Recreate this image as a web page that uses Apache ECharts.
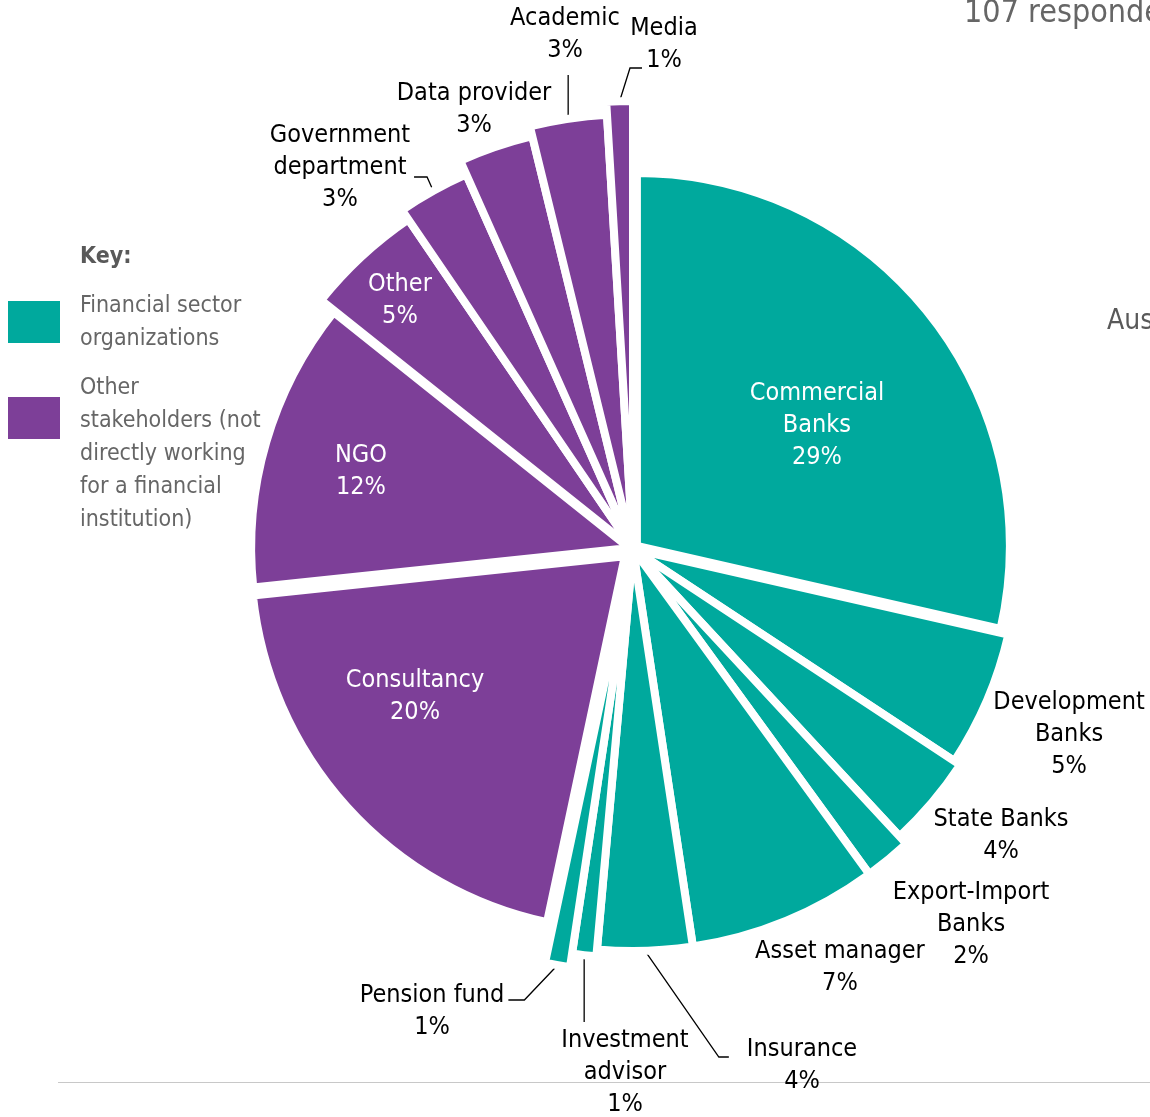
<!DOCTYPE html>
<html>
<head>
<meta charset="utf-8">
<script src="https://cdn.jsdelivr.net/npm/echarts@6/dist/echarts.min.js"></script>
<style>
html,body{margin:0;padding:0;background:#ffffff;}
#chart{width:1150px;height:1117px;}
</style>
</head>
<body>
<div id="chart"></div>
<script>
// ---------------- data ----------------
const categories = [
  'Commercial\nBanks', 'Development\nBanks', 'State Banks', 'Export-Import\nBanks',
  'Asset manager', 'Insurance', 'Investment\nadvisor', 'Pension fund',
  'Consultancy', 'NGO', 'Other', 'Government\ndepartment', 'Data provider', 'Academic', 'Media'
];
// slice sizes (respondents)
const counts = [30, 6, 4, 2, 8, 4, 1, 1, 21, 13, 5, 3, 3, 3, 1];
// percentages printed on the chart
const percentLabels = [29, 5, 4, 2, 7, 4, 1, 1, 20, 12, 5, 3, 3, 3, 1];
const groups = ['fin','fin','fin','fin','fin','fin','fin','fin','oth','oth','oth','oth','oth','oth','oth'];
const legendLabels = ['Financial sector\norganizations', 'Other\nstakeholders (not\ndirectly working\nfor a financial\ninstitution)'];
const keyTitle = 'Key:';
const headerText = '107 respondents';
const sideText = 'Aus';

// ---------------- styles / layout ----------------
const FONT = '"DejaVu Sans Condensed", "DejaVu Sans", sans-serif';
const COLORS = { fin: '#00A99D', oth: '#7D3F98' };
const CENTER = [633, 549];
const BORDER = 8;
const radiusVis = [369, 381, 388, 398, 398, 398, 405, 419, 370, 374, 395, 406, 421, 431, 444];
const explode   = [5, 0, 0, 0, 0, 0, 0, 0, 11, 4, 0, 0, 0, 0, 0];
const labelPos  = ['inside','outside','outside','outside','outside','outside','outside','outside',
                   'inside','inside','inside','outside','outside','outside','outside'];
// leader line style: none | right (elbow to label's right side) | left | vertical
const lineMode  = ['none','none','none','none','none','left','vertUp','right','none','none','none','right','none','vertDown','leftMedia'];
const lineStub  = [0,0,0,0,0,10,10,10,0,0,0,12,0,10,10];
// shift of the label-block centre from the library's default label anchor
const labelShift = [
  [31.9, -2.7], [77.0, 33.7], [64.0, 33.5], [77.7, 64.5], [49.5, 47.0], [142.0, 114.2], [55.8, 117.9], [-110.4, 45.8],
  [-68.6, 13.5], [-83.9, -23], [-95.3, -99.6], [-76.4, -23.9], [-16.6, -37.8], [11.8, -83.9], [59.4, -57.2]
];

const total = counts.reduce((a, b) => a + b, 0);
let acc = 0;
const midDeg = counts.map(v => { const m = (acc + v / 2) / total * 360; acc += v; return m; });

function leaderPoints(mode, a, cx, cy, w, h) {
  const L = cx - w / 2, R = cx + w / 2, T = cy - h / 2, B = cy + h / 2;
  if (mode === 'right') {
    const yl = cy + (h > 70 ? 10 : -11);
    const end = [R + 4, yl];
    const elbow = [R + 4 + (h > 70 ? 13 : 16), yl];
    return [a, elbow, end];
  }
  if (mode === 'left') {
    const yl = cy - 8;
    return [a, [L - 28, yl], [L - 18, yl]];
  }
  if (mode === 'leftMedia') {
    const yl = cy + 24;
    return [a, [cx - 34, yl], [cx - 22, yl]];
  }
  if (mode === 'vertUp') {
    return [a, [a[0], (a[1] + T - 3) / 2], [a[0], T - 3]];
  }
  if (mode === 'vertDown') {
    return [a, [a[0], (a[1] + B + 8) / 2], [a[0], B + 8]];
  }
  return null;
}

const series = counts.map((v, i) => {
  const rad = midDeg[i] * Math.PI / 180;
  const center = [CENTER[0] + explode[i] * Math.sin(rad), CENTER[1] - explode[i] * Math.cos(rad)];
  const inside = labelPos[i] === 'inside';
  return {
    type: 'pie',
    center: center,
    radius: [0, radiusVis[i] + BORDER / 2],
    startAngle: 90,
    clockwise: true,
    avoidLabelOverlap: false,
    silent: true,
    animation: false,
    label: {
      position: labelPos[i],
      formatter: p => p.name + '\n' + percentLabels[p.dataIndex] + '%',
      fontSize: 25,
      lineHeight: 32,
      fontFamily: FONT,
      color: inside ? '#ffffff' : '#000000',
      alignTo: 'none',
      distanceToLabelLine: 5
    },
    labelLine: {
      length: 0,
      length2: lineStub[i],
      smooth: false,
      lineStyle: { color: '#000000', width: 1.3 }
    },
    labelLayout: function (p) {
      if (p.dataIndex !== i) return {};
      const r = p.labelRect;
      const ax = p.align === 'right' ? r.x + r.width : (p.align === 'center' ? r.x + r.width / 2 : r.x);
      const ay = r.y + r.height / 2;
      const tx = ax + labelShift[i][0];
      const ty = ay + labelShift[i][1];
      const out = { x: tx, y: ty, align: 'center', verticalAlign: 'middle' };
      if (lineMode[i] !== 'none' && p.labelLinePoints && p.labelLinePoints.length) {
        out.labelLinePoints = leaderPoints(lineMode[i], p.labelLinePoints[0], tx, ty, r.width, r.height);
      }
      return out;
    },
    data: categories.map((name, j) => ({
      name: name,
      value: counts[j],
      itemStyle: j === i
        ? { color: COLORS[groups[j]], borderColor: '#ffffff', borderWidth: BORDER }
        : { color: 'rgba(0,0,0,0)', borderWidth: 0 },
      label: { show: j === i },
      labelLine: { show: j === i && lineMode[i] !== 'none' }
    }))
  };
});

const graphic = [
  { type: 'line', z: -10, shape: { x1: 58, y1: 1082.5, x2: 1150, y2: 1082.5 }, style: { stroke: '#c8c8c8', lineWidth: 1 } },
  { type: 'text', style: { text: headerText, x: 964, y: 14, verticalAlign: 'middle', font: '32px ' + FONT, fill: '#666666' } },
  { type: 'text', style: { text: sideText, x: 1107, y: 322, verticalAlign: 'middle', font: '28px ' + FONT, fill: '#595959' } },
  { type: 'text', style: { text: keyTitle, x: 80, y: 257, verticalAlign: 'middle', font: 'bold 23px ' + FONT, fill: '#595959' } },
  { type: 'rect', shape: { x: 8, y: 301, width: 52, height: 42 }, style: { fill: COLORS.fin } },
  { type: 'rect', shape: { x: 8, y: 397, width: 52, height: 42 }, style: { fill: COLORS.oth } },
  { type: 'text', style: { text: legendLabels[0], x: 80, y: 290, verticalAlign: 'top', lineHeight: 33, font: '23px ' + FONT, fill: '#666666' } },
  { type: 'text', style: { text: legendLabels[1], x: 80, y: 372, verticalAlign: 'top', lineHeight: 33, font: '23px ' + FONT, fill: '#666666' } }
];

const chart = echarts.init(document.getElementById('chart'), null, { renderer: 'canvas' });
chart.setOption({
  animation: false,
  backgroundColor: '#ffffff',
  series: series,
  graphic: graphic
});
</script>
</body>
</html>
